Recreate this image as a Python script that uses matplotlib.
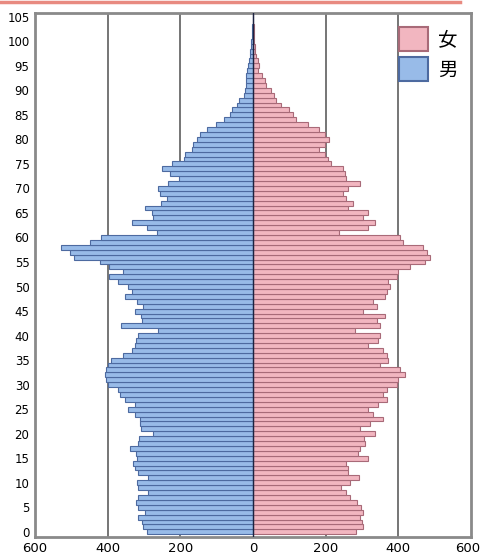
import matplotlib
matplotlib.use("Agg")
import matplotlib.pyplot as plt
import matplotlib.transforms as mtransforms
import numpy as np

ages = list(range(0, 106))

male = [293, 302, 305, 316, 298, 316, 321, 316, 288, 316,
        318, 288, 316, 325, 330, 318, 321, 339, 316, 314,
        274, 307, 311, 311, 325, 344, 325, 353, 367, 371,
        399, 404, 407, 404, 399, 390, 358, 334, 325, 321,
        316, 261, 362, 305, 307, 325, 302, 318, 353, 334,
        344, 371, 395, 358, 395, 422, 492, 505, 528, 450,
        418, 265, 293, 334, 274, 279, 298, 253, 237, 256,
        261, 233, 205, 228, 251, 224, 191, 187, 168, 164,
        155, 145, 127, 103, 80, 62, 57, 43, 39, 25,
        22, 20, 20, 18, 16, 13, 11, 9, 7, 6,
        5, 4, 3, 2, 1, 1]

female = [283, 303, 301, 294, 303, 298, 286, 266, 257, 243,
          266, 292, 261, 261, 257, 317, 289, 294, 308, 305,
          335, 294, 322, 358, 331, 317, 345, 368, 358, 368,
          395, 400, 419, 405, 349, 372, 368, 358, 317, 345,
          349, 280, 349, 340, 363, 303, 340, 331, 363, 368,
          377, 372, 395, 400, 432, 474, 488, 479, 469, 414,
          405, 238, 317, 335, 303, 317, 261, 275, 257, 248,
          261, 294, 257, 252, 248, 215, 206, 197, 183, 197,
          208, 197, 183, 151, 118, 109, 100, 77, 63, 58,
          49, 35, 33, 26, 15, 17, 15, 7, 6, 5,
          4, 3, 2, 2, 1, 1]

xticks = [-600, -400, -200, 0, 200, 400, 600]
xticklabels = ["600", "400", "200", "0", "200", "400", "600"]
yticks = list(range(0, 106, 5))
legend_labels = ["女", "男"]

fig = plt.figure(figsize=(4.82, 5.58), dpi=100)
ax = fig.add_axes([35/482, 1 - 536.7/558, 436/482, (536.7 - 13.3)/558])

for x in [-400, -200, 200, 400]:
    ax.axvline(x, color="#6a6a6a", lw=1.3, zorder=0)

hf = ax.barh(ages, female, height=1.0, color="#f2b6c0", edgecolor="#a86a78",
             linewidth=0.8, zorder=2, label=legend_labels[0])
hm = ax.barh(ages, [-v for v in male], height=1.0, color="#98bbe8", edgecolor="#4d6aa0",
             linewidth=0.8, zorder=2, label=legend_labels[1])
ax.axvline(0, color="#1c2340", lw=1.0, zorder=3)

ax.set_xlim(-600, 600)
ax.set_ylim(-1.0, 105.7)
ax.set_xticks(xticks)
ax.set_xticklabels(xticklabels, fontsize=9.5)
ax.set_yticks(yticks)
ax.set_yticklabels([str(t) for t in yticks], fontsize=8.5)
ax.tick_params(length=0, pad=4)
labs = ax.get_xticklabels()
labs[-1].set_transform(labs[-1].get_transform() +
                       mtransforms.ScaledTranslation(-3/100, 0, fig.dpi_scale_trans))
for s in ax.spines.values():
    s.set_color("#8a8a8a")
    s.set_linewidth(2)

leg = ax.legend(handles=[hf, hm], labels=legend_labels, loc="upper right",
                frameon=False, prop={"family": ["Noto Sans CJK JP", "DejaVu Sans"], "size": 14},
                handlelength=1.5, handleheight=1.5, borderaxespad=0.3, labelspacing=0.35,
                handletextpad=0.5)
for p in leg.get_patches():
    p.set_linewidth(1.5)

fig.add_artist(plt.Line2D([0, 0.955], [0.997, 0.997], color="#e88a80", lw=2.5,
                          transform=fig.transFigure))

fig.savefig("out.png", dpi=100)
